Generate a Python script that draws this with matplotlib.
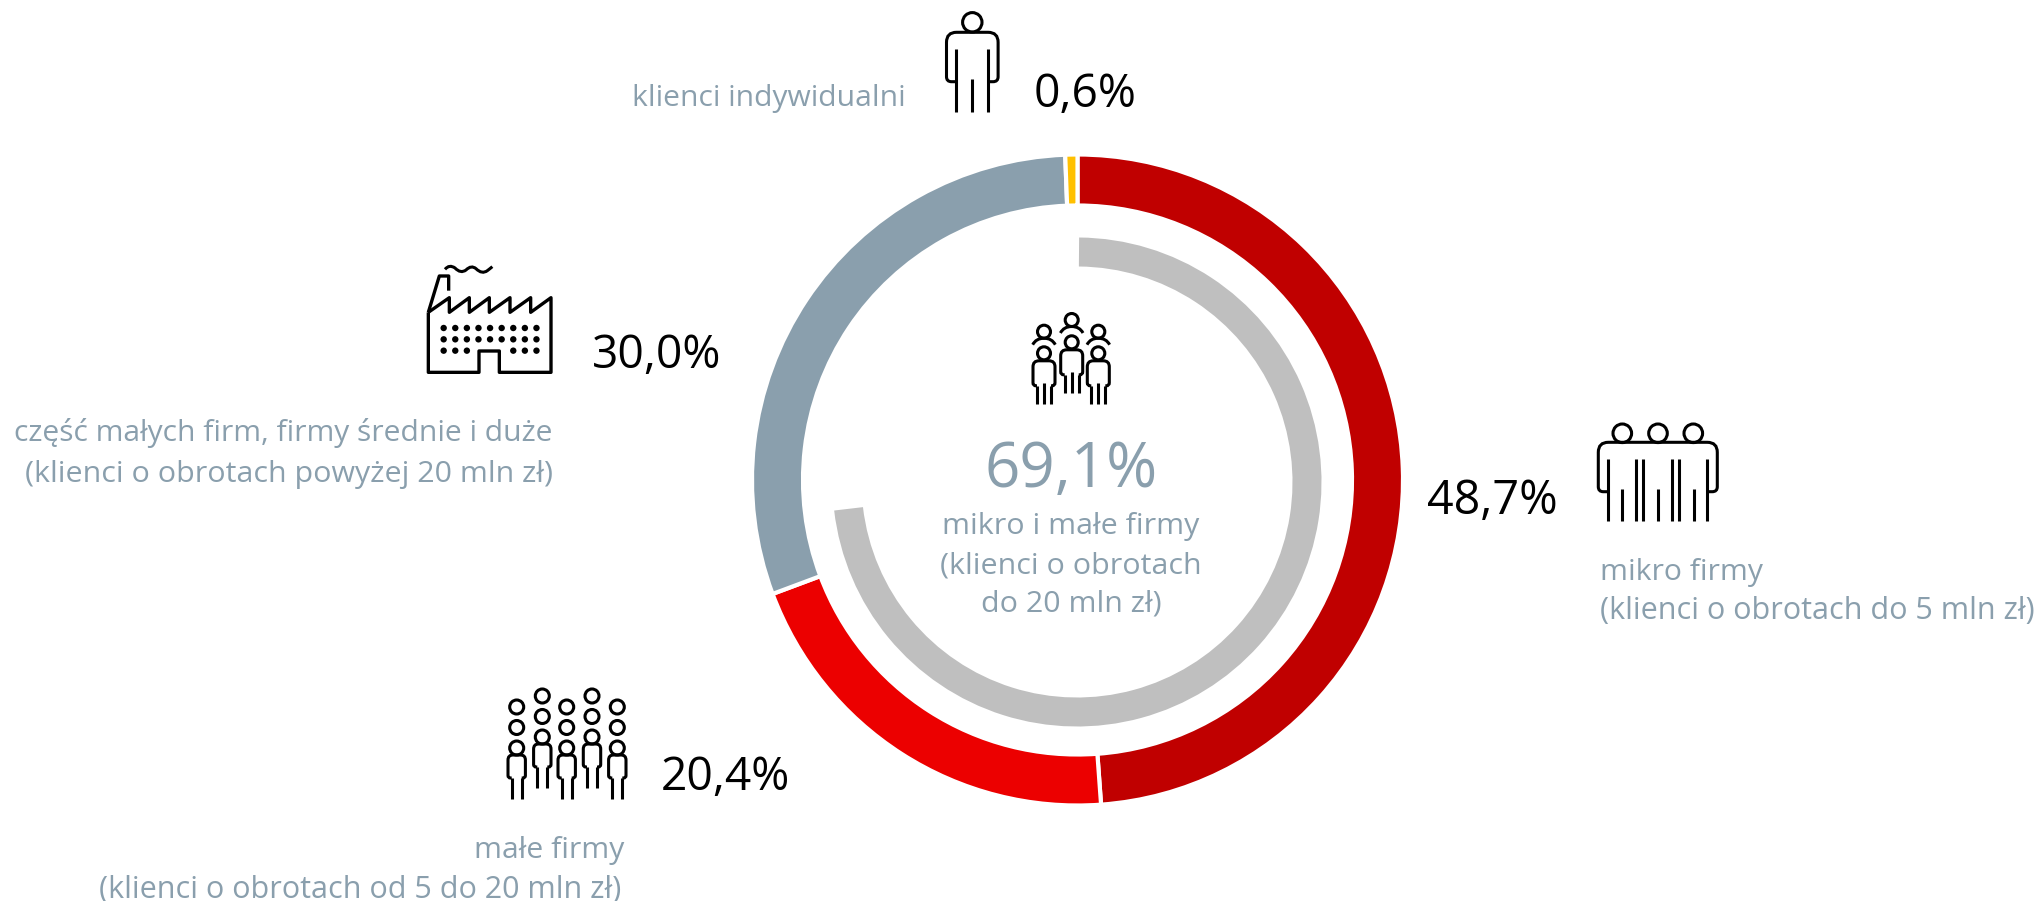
import numpy as np
from matplotlib import pyplot as plt
from matplotlib.path import Path
from matplotlib.patches import PathPatch, Circle

plt.rcParams['font.family'] = ['Open Sans', 'DejaVu Sans']

W = 2039
H = 901

# data
seg_names = ['mikro firmy', 'małe firmy', 'część małych firm', 'klienci indywidualni']
seg_values = [48.7, 20.4, 30.0, 0.6]
seg_colors = ['#C00000', '#EC0000', '#8A9FAD', '#FFC000']
inner_values = [73.0, 27.0]  # grey arc, as drawn
pct_labels = ['48,7%', '20,4%', '30,0%', '0,6%']
center_pct = '69,1%'

GREY = '#8A9FAD'
CX, CY = 1077.5, 480

fig = plt.figure(figsize=(W / 100, H / 100), dpi=100)
ax = fig.add_axes([0, 0, 1, 1])

ax.pie(seg_values, colors=seg_colors, radius=325.5, center=(CX, H - CY), startangle=90,
       counterclock=False, wedgeprops=dict(width=51, edgecolor='white', linewidth=3))
ax.pie(inner_values, colors=['#BFBFBF', 'none'], radius=244.5, center=(1077, H - 482), startangle=89.5,
       counterclock=False, wedgeprops=dict(width=29, linewidth=0))

ax.set_xlim(0, W)
ax.set_ylim(0, H)
ax.set_aspect('equal')
ax.axis('off')


def line(pts, lw=2.2):
    verts = [(x, H - y) for x, y in pts]
    ax.add_patch(PathPatch(Path(verts), fill=False, lw=lw, ec='black', capstyle='butt', joinstyle='round'))


def circ(x, y, r, lw=2.2):
    ax.add_patch(Circle((x, H - y), r, fill=False, lw=lw, ec='black'))


def body(cx, hw, top, bot, inner, r, lw=2.2):
    # rounded shoulders and arms, open between the arm ends
    v = [(cx - inner, bot), (cx - hw + r * 0.5, bot), (cx - hw, bot), (cx - hw, bot - r * 0.5),
         (cx - hw, top + r), (cx - hw, top), (cx - hw + r, top),
         (cx + hw - r, top), (cx + hw, top), (cx + hw, top + r),
         (cx + hw, bot - r * 0.5), (cx + hw, bot), (cx + hw - r * 0.5, bot), (cx + inner, bot)]
    c = [Path.MOVETO, Path.LINETO, Path.CURVE3, Path.CURVE3, Path.LINETO, Path.CURVE3, Path.CURVE3,
         Path.LINETO, Path.CURVE3, Path.CURVE3, Path.LINETO, Path.CURVE3, Path.CURVE3, Path.LINETO]
    ax.add_patch(PathPatch(Path([(x, H - y) for x, y in v], c), fill=False, lw=lw, ec='black'))


def shoulders(cx, hw, y0, y1, lw=2.2):
    v = [(cx - hw, y0), (cx - hw * 0.7, y1), (cx, y1), (cx + hw * 0.7, y1), (cx + hw, y0)]
    c = [Path.MOVETO, Path.CURVE3, Path.CURVE3, Path.CURVE3, Path.CURVE3]
    ax.add_patch(PathPatch(Path([(x, H - y) for x, y in v], c), fill=False, lw=lw, ec='black'))


# single person, top
circ(972.3, 22.3, 9.7)
body(972.3, 25.8, 32.3, 81.7, 16, 10)
for x, y0 in [(956.3, 49), (988.3, 49), (972.3, 79.3)]:
    line([(x, y0), (x, 112)])

# three people, right
for x in [1622.3, 1658, 1693.3]:
    circ(x, 433.3, 9.3)
body(1657.8, 59.5, 442.3, 491.7, 50, 10)
for x in [1608, 1636, 1643.3, 1671.7, 1679.3, 1707.3]:
    line([(x, 459), (x, 521)])
for x in [1622, 1657.7, 1693.7]:
    line([(x, 489.3), (x, 521)])

# group in the centre
for x, y in [(1071.7, 320), (1044, 331.7), (1098.3, 331.7)]:
    circ(x, y, 6.5)
    shoulders(x, 11.3, y + 13, y + 6.5)
for x, y in [(1044, 353.3), (1071.7, 342.3), (1098.3, 353.3)]:
    circ(x, y, 6.5)
    t = y + 7.5
    body(x, 11, t, t + 25, 7, 6)
    for dx, y0 in [(-7, t + 25), (0, t + 22), (7, t + 25)]:
        line([(x + dx, y0), (x + dx, t + 43)])

# crowd, lower left
for x, y0 in [(516.7, 707), (542.3, 696), (566.7, 707), (592, 696), (617.3, 707)]:
    for k in range(3):
        circ(x, y0 + k * 20.5, 7)
    t = y0 + 48
    body(x, 8.7, t, t + 23, 5, 5)
    for dx in [-5, 5]:
        line([(x + dx, t + 23), (x + dx, t + 44)])

# factory
factory_x = [55, 55, 207, 207, 268, 268, 423, 423, 362, 362, 300, 300, 238, 238, 178, 178, 118, 118, 55]
factory_y = [187, 367, 367, 303, 303, 367, 367, 143, 187, 143, 187, 143, 187, 143, 187, 143, 187, 143, 187]
line([(410 + x / 3, 250 + y / 3) for x, y in zip(factory_x, factory_y)], 2.4)
line([(410 + x / 3, 250 + y / 3) for x, y in [(55, 187), (88, 78), (116, 78), (116, 122)]], 2.4)
v = [(105, 58), (118, 42), (135, 54), (152, 72), (168, 60), (184, 44), (198, 56), (216, 74), (232, 62), (240, 56), (247, 50)]
c = [Path.MOVETO] + [Path.CURVE3] * 10
ax.add_patch(PathPatch(Path([(410 + x / 3, H - 250 - y / 3) for x, y in v], c), fill=False, lw=2.2, ec='black'))
for i, y in enumerate([234, 268, 302]):
    for j in range(9):
        if i == 2 and j in (3, 4, 5):
            continue
        ax.add_patch(Circle((410 + (101 + j * 34.8) / 3, H - 250 - y / 3), 3.2, fc='black', ec='none'))


def txt(x, y, s, size, color='black', ha='left'):
    ax.text(x, H - y, s, fontsize=size, color=color, ha=ha, va='baseline')


# percentages
txt(1427, 514, pct_labels[0], 33.6)
txt(661, 790, pct_labels[1], 33.2)
txt(592, 368, pct_labels[2], 33.2)
txt(1034, 107, pct_labels[3], 33.2)

# labels
txt(906, 106, 'klienci indywidualni', 21.6, GREY, 'right')
txt(553, 441, 'część małych firm, firmy średnie i duże', 21.6, GREY, 'right')
txt(553, 482, '(klienci o obrotach powyżej 20 mln zł)', 21.9, GREY, 'right')
txt(624, 858, 'małe firmy', 21.7, GREY, 'right')
txt(621, 898, '(klienci o obrotach od 5 do 20 mln zł)', 22, GREY, 'right')
txt(1600, 580, 'mikro firmy', 21.7, GREY)
txt(1600, 619, '(klienci o obrotach do 5 mln zł)', 22, GREY)

# centre
txt(1071, 487, center_pct, 44.5, GREY, 'center')
txt(1071, 534, 'mikro i małe firmy', 21.9, GREY, 'center')
txt(1071, 573, '(klienci o obrotach', 21.9, GREY, 'center')
txt(1071, 612, 'do 20 mln zł)', 21.9, GREY, 'center')

fig.savefig('out.png', dpi=100)
